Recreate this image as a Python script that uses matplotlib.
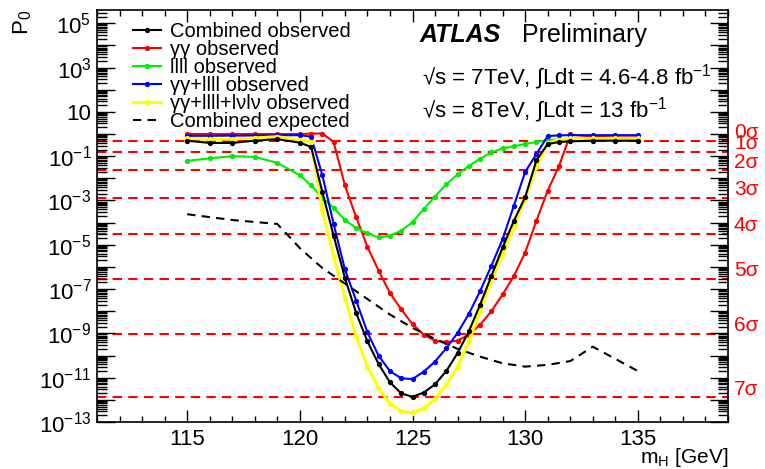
import matplotlib
matplotlib.use('Agg')
import matplotlib.pyplot as plt
import matplotlib.ticker as mticker
import numpy as np

plt.rcParams['font.family'] = ['Liberation Sans', 'DejaVu Sans']
plt.rcParams['mathtext.fontset'] = 'custom'
plt.rcParams['mathtext.rm'] = 'Liberation Sans'
plt.rcParams['mathtext.it'] = 'Liberation Sans:italic'
plt.rcParams['mathtext.bf'] = 'Liberation Sans:bold'

# scan points of the observed curves (GeV)
mass_obs = [115, 116, 117, 118, 119, 120,
            120.5, 121, 121.5, 122, 122.5, 123, 123.5, 124, 124.5, 125, 125.5,
            126, 126.5, 127, 127.5, 128, 128.5, 129, 129.5, 130, 130.5, 131, 131.5,
            132, 133, 134, 135]

# log10(p0)
logp_comb = [-0.30, -0.40, -0.40, -0.30, -0.23, -0.39,
             -0.58, -2.62, -4.59, -6.49, -8.08, -9.36, -10.39, -11.21, -11.71, -11.86, -11.67,
             -11.30, -10.70, -9.89, -8.91, -7.70, -6.41, -5.12, -3.91, -2.85, -1.18, -0.45, -0.36,
             -0.33, -0.30, -0.30, -0.30]
logp_gg = [0.0, 0.0, 0.0, 0.0, 0.0, 0.0,
           0.02, 0.02, -0.35, -2.32, -3.76, -5.09, -6.18, -7.17, -7.92, -8.58, -9.06,
           -9.33, -9.39, -9.33, -9.06, -8.61, -8.00, -7.24, -6.41, -5.35, -3.91, -2.55, -1.45,
           -0.02, -0.12, -0.15, -0.15]
logp_4l = [-1.21, -1.10, -1.00, -1.03, -1.30, -1.86,
           -2.32, -2.88, -3.33, -3.88, -4.24, -4.48, -4.67, -4.59, -4.36, -3.98, -3.39,
           -2.82, -2.27, -1.82, -1.44, -1.11, -0.83, -0.65, -0.55, -0.45, -0.36, -0.27, -0.25,
           -0.23, -0.22, -0.22, -0.22]
logp_gg4l = [-0.08, -0.08, -0.07, -0.07, -0.06, -0.05,
             -0.12, -1.86, -4.06, -6.11, -7.52, -8.95, -10.02, -10.70, -11.03, -11.06, -10.73,
             -10.27, -9.67, -8.98, -8.12, -7.09, -5.95, -4.74, -3.23, -1.71, -0.90, -0.09, -0.06,
             -0.05, -0.05, -0.05, -0.05]
logp_gg4llvlv = [-0.20, -0.24, -0.22, -0.18, -0.12, -0.27,
                 -0.35, -3.45, -5.50, -7.39, -9.14, -10.50, -11.48, -12.17, -12.52, -12.58, -12.39,
                 -11.94, -11.33, -10.50, -9.36, -8.00, -6.64, -5.42, -4.21, -2.92, -1.48, -0.42, -0.25,
                 -0.20, -0.20, -0.20, -0.20]

mass_exp = [115, 116, 117, 118, 119, 119.5, 120, 121, 122, 123, 124, 125, 126, 127,
            128, 129, 130, 131, 132, 133, 134, 135]
logp_exp = [-3.62, -3.75, -3.88, -3.97, -4.06, -4.60, -5.15, -6.05, -6.75, -7.45, -8.15,
            -8.75, -9.25, -9.70, -10.05, -10.35, -10.50, -10.42, -10.25, -9.60, -10.15, -10.70]

sigma_labels = ['0σ', '1σ', '2σ', '3σ', '4σ', '5σ', '6σ', '7σ']
sigma_p0 = [0.5, 1.587e-1, 2.275e-2, 1.35e-3, 3.167e-5, 2.867e-7, 9.866e-10, 1.28e-12]

fig = plt.figure(figsize=(7.65, 4.69), dpi=100)
ax = fig.add_axes([97 / 765, 1 - 422 / 469, 631 / 765, 412 / 469])

for p in sigma_p0:
    ax.axhline(p, color='red', lw=1.5, dashes=(4.5, 3), zorder=1)
for lab, p in zip(sigma_labels, sigma_p0):
    ax.annotate(lab, xy=(1, p), xycoords=('axes fraction', 'data'),
                xytext=(6, 8), textcoords='offset pixels',
                color='red', fontsize=15, va='center', ha='left', annotation_clip=False)

series = [
    (logp_comb, 'black', 'Combined observed'),
    (logp_gg, 'red', 'γγ observed'),
    (logp_4l, '#00ee00', 'llll observed'),
    (logp_gg4l, 'blue', 'γγ+llll observed'),
    (logp_gg4llvlv, '#ffff00', 'γγ+llll+lνlν observed'),
]
handles = []
for vals, col, lab in series:
    lw = 2.2 if col == '#ffff00' else 1.5
    h, = ax.plot(mass_obs, 10 ** np.array(vals), color=col, lw=lw, marker='o',
                 markersize=2.8, label=lab, zorder=3)
    handles.append(h)
h, = ax.plot(mass_exp, 10 ** np.array(logp_exp), color='black', lw=1.5,
             dashes=(4, 3), label='Combined expected', zorder=3)
handles.append(h)
# combined on top
handles[0].set_zorder(4)

ax.set_yscale('log')
ax.set_xlim(111, 139)
ax.set_ylim(1e-13, 10 ** 5.6)

ax.xaxis.set_major_locator(mticker.MultipleLocator(5))
ax.xaxis.set_minor_locator(mticker.MultipleLocator(1))
ax.yaxis.set_major_locator(mticker.LogLocator(base=10, numticks=40))
ax.yaxis.set_minor_locator(mticker.LogLocator(base=10, subs=np.arange(2, 10), numticks=40))


def ylab(v, pos):
    e = int(round(np.log10(v)))
    if e % 2 != 1:
        return ''
    if e == 1:
        return '10'
    return r'10$^{%d}$' % e


ax.yaxis.set_major_formatter(mticker.FuncFormatter(ylab))
ax.yaxis.set_minor_formatter(mticker.NullFormatter())
ax.tick_params(which='both', direction='in', top=True, right=True, width=1)
ax.tick_params(axis='x', which='major', length=8.5, labelsize=16, pad=5)
ax.tick_params(axis='x', which='minor', length=4.5)
ax.tick_params(axis='y', which='major', length=13, labelsize=16, pad=4)
ax.tick_params(axis='y', which='minor', length=7)
for s in ax.spines.values():
    s.set_linewidth(1.2)

leg = ax.legend(handles=handles, loc='upper left',
                bbox_to_anchor=((133 - 97) / 631, (422 - 22) / 412),
                frameon=False, fontsize=14.5, handlelength=1.4, handletextpad=0.45,
                labelspacing=-0.05, borderpad=0, borderaxespad=0, numpoints=1)

fig.text(420 / 765, 1 - 35 / 469, 'ATLAS', fontsize=18, fontweight='bold',
         fontstyle='italic', va='center', ha='left')
fig.text(522 / 765, 1 - 35 / 469, 'Preliminary', fontsize=18, va='center', ha='left')
fig.text(422 / 765, 1 - 77 / 469, r'√s = 7TeV, ∫Ldt = 4.6-4.8 fb$^{-1}$', fontsize=16,
         va='center', ha='left')
fig.text(422 / 765, 1 - 110 / 469, r'√s = 8TeV, ∫Ldt = 13 fb$^{-1}$', fontsize=16,
         va='center', ha='left')

fig.text(23 / 765, 1 - 22 / 469, r'P$_0$', fontsize=16, rotation=90, va='center', ha='center')
fig.text(728 / 765, 1 - 457 / 469, r'm$_{\rm H}$ [GeV]', fontsize=15, va='center', ha='right')

fig.savefig('out.png', dpi=100)
